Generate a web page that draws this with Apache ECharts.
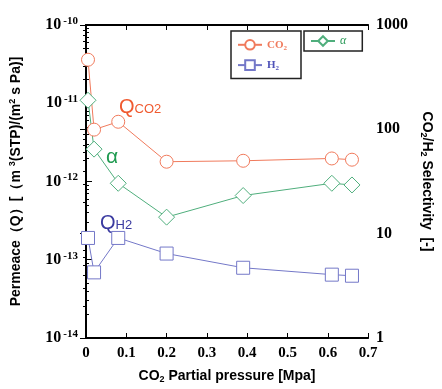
<!DOCTYPE html>
<html>
<head>
<meta charset="utf-8">
<script src="https://cdn.jsdelivr.net/npm/echarts@6/dist/echarts.min.js"></script>
<style>
  html, body { margin: 0; padding: 0; background: #fff; }
  #chart { width: 442px; height: 389px; }
</style>
</head>
<body>
<div id="chart"></div>
<script>
// CO2 partial pressure [MPa]
var pressure = [0.005, 0.02, 0.08, 0.2, 0.39, 0.61, 0.66];
// permeance Q [m3(STP)/(m2 s Pa)]
var qCO2 = [3.6e-11, 4.6e-12, 5.8e-12, 1.79e-12, 1.84e-12, 1.97e-12, 1.9e-12];
var qH2 = [1.9e-13, 6.9e-14, 1.9e-13, 1.2e-13, 7.9e-14, 6.45e-14, 6.25e-14];
// CO2/H2 selectivity
var alpha = [190, 64.6, 30.4, 14.4, 23.2, 30.4, 29.3];

var cRed = '#f07a5c', cBlue = '#7478c8', cGreen = '#4fae7c';
var serif = '"Liberation Serif", "Times New Roman", serif';
var sans = '"Liberation Sans", Arial, sans-serif';

function pairs(ys) {
  return pressure.map(function (x, i) { return [x, ys[i]]; });
}

var chart = echarts.init(document.getElementById('chart'));

var supRich = {
  b: { fontFamily: serif, fontWeight: 'bold', fontSize: 16, color: '#000', lineHeight: 18 },
  s: { fontFamily: serif, fontWeight: 'bold', fontSize: 11, color: '#000', lineHeight: 18, padding: [0, 0, 8, 2] }
};

chart.setOption({
  animation: false,
  grid: { left: 82, top: 25, right: 59, bottom: 49 },
  legend: [
    {
      data: ['CO2', 'H2'],
      orient: 'vertical',
      left: 231, top: 31,
      padding: [8, 14, 7, 6],
      itemGap: 8,
      itemWidth: 24, itemHeight: 12,
      borderColor: '#222', borderWidth: 1.5,
      formatter: function (n) { return n === 'CO2' ? '{r|CO}{rs|2}' : '{bl|H}{bs|2}'; },
      textStyle: {
        rich: {
          r: { fontFamily: serif, fontWeight: 'bold', fontSize: 11, color: cRed },
          rs: { fontFamily: serif, fontWeight: 'bold', fontSize: 7, color: cRed, padding: [6, 0, 0, 0] },
          bl: { fontFamily: serif, fontWeight: 'bold', fontSize: 11, color: '#4f52b8' },
          bs: { fontFamily: serif, fontWeight: 'bold', fontSize: 7, color: '#4f52b8', padding: [6, 0, 0, 0] }
        }
      }
    },
    {
      data: ['α'],
      left: 304, top: 31,
      padding: [4, 16, 4, 6],
      itemWidth: 24, itemHeight: 12,
      borderColor: '#222', borderWidth: 1.5,
      textStyle: { fontFamily: serif, fontStyle: 'italic', fontSize: 12, color: '#2a9a58' }
    }
  ],
  xAxis: [
    {
      type: 'value', min: 0, max: 0.7, interval: 0.1,
      name: '{b|CO}{s|2}{b| Partial pressure [Mpa]}',
      nameLocation: 'middle', nameGap: 30,
      nameTextStyle: {
        rich: {
          b: { fontFamily: sans, fontWeight: 'bold', fontSize: 14, color: '#000' },
          s: { fontFamily: sans, fontWeight: 'bold', fontSize: 9, color: '#000', padding: [7, 0, 0, 0] }
        }
      },
      axisLine: { lineStyle: { color: '#000', width: 2 } },
      axisTick: { inside: true, length: 5, lineStyle: { color: '#000' } },
      axisLabel: {
        fontFamily: serif, fontWeight: 'bold', fontSize: 15, color: '#000', margin: 8,
        formatter: function (v) { return v === 0 ? '0' : v.toFixed(1); }
      },
      splitLine: { show: false }
    },
    {
      type: 'value', min: 0, max: 0.7, interval: 0.1, position: 'top',
      axisLine: { lineStyle: { color: '#000', width: 2 } },
      axisTick: { inside: true, length: 5, lineStyle: { color: '#000' } },
      axisLabel: { show: false },
      splitLine: { show: false }
    }
  ],
  yAxis: [
    {
      type: 'log', logBase: 10, min: 1e-14, max: 1e-10,
      name: '{b|Permeace（Q）[（m }{s|3}{b|(STP)/(m}{s|2}{b| s Pa)]}',
      nameLocation: 'middle', nameGap: 62, nameRotate: 90,
      nameTextStyle: {
        rich: {
          b: { fontFamily: sans, fontWeight: 'bold', fontSize: 14, color: '#000' },
          s: { fontFamily: sans, fontWeight: 'bold', fontSize: 9, color: '#000', padding: [0, 0, 7, 0] }
        }
      },
      axisLine: { show: true, lineStyle: { color: '#000', width: 2 } },
      axisTick: { inside: true, length: 6, lineStyle: { color: '#000' } },
      minorTick: { show: true, splitNumber: 9, length: 3, lineStyle: { color: '#000' } },
      axisLabel: {
        margin: 8,
        formatter: function (v) {
          var e = Math.round(Math.log10(v));
          return '{b|10}{s|' + e + '}';
        },
        rich: supRich
      },
      splitLine: { show: false }
    },
    {
      type: 'log', logBase: 10, min: 1, max: 1000,
      name: '{b|CO}{s|2}{b|/H}{s|2}{b| Selectivity  [-]}',
      nameLocation: 'middle', nameGap: 40, nameRotate: -90,
      nameTextStyle: {
        rich: {
          b: { fontFamily: sans, fontWeight: 'bold', fontSize: 14, color: '#000' },
          s: { fontFamily: sans, fontWeight: 'bold', fontSize: 9, color: '#000', padding: [7, 0, 0, 0] }
        }
      },
      axisLine: { show: true, lineStyle: { color: '#000', width: 2 } },
      axisTick: { inside: true, length: 6, lineStyle: { color: '#000' } },
      minorTick: { show: true, splitNumber: 9, length: 3, lineStyle: { color: '#000' } },
      axisLabel: {
        margin: 8,
        fontFamily: serif, fontWeight: 'bold', fontSize: 16, color: '#000',
        formatter: function (v) { return String(Math.round(v)); }
      },
      splitLine: { show: false }
    }
  ],
  graphic: [
    {
      type: 'text', left: 119, top: 97,
      style: {
        text: '{q|Q}{s|CO2}',
        rich: {
          q: { fontFamily: sans, fontSize: 20, fill: '#f05a30' },
          s: { fontFamily: sans, fontSize: 13, fill: '#f05a30', padding: [5, 0, 0, 0] }
        }
      }
    },
    {
      type: 'text', left: 106, top: 147,
      style: { text: 'α', fontFamily: sans, fontSize: 21, fill: '#1f9a50' }
    },
    {
      type: 'text', left: 100, top: 213,
      style: {
        text: '{q|Q}{s|H2}',
        rich: {
          q: { fontFamily: sans, fontSize: 20, fill: '#3a3aa0' },
          s: { fontFamily: sans, fontSize: 13, fill: '#3a3aa0', padding: [5, 0, 0, 0] }
        }
      }
    }
  ],
  series: [
    {
      name: 'CO2', type: 'line', xAxisIndex: 0, yAxisIndex: 0,
      data: pairs(qCO2),
      symbol: 'circle', symbolSize: 13,
      itemStyle: { color: '#fff', borderColor: cRed, borderWidth: 1 },
      lineStyle: { color: cRed, width: 1 }
    },
    {
      name: 'H2', type: 'line', xAxisIndex: 0, yAxisIndex: 0,
      data: pairs(qH2),
      symbol: 'rect', symbolSize: 13,
      itemStyle: { color: '#fff', borderColor: cBlue, borderWidth: 1 },
      lineStyle: { color: cBlue, width: 1 }
    },
    {
      name: 'α', type: 'line', xAxisIndex: 0, yAxisIndex: 1,
      data: pairs(alpha),
      symbol: 'diamond', symbolSize: [16, 16],
      itemStyle: { color: '#fff', borderColor: cGreen, borderWidth: 1 },
      lineStyle: { color: cGreen, width: 1 }
    }
  ]
});
</script>
</body>
</html>
